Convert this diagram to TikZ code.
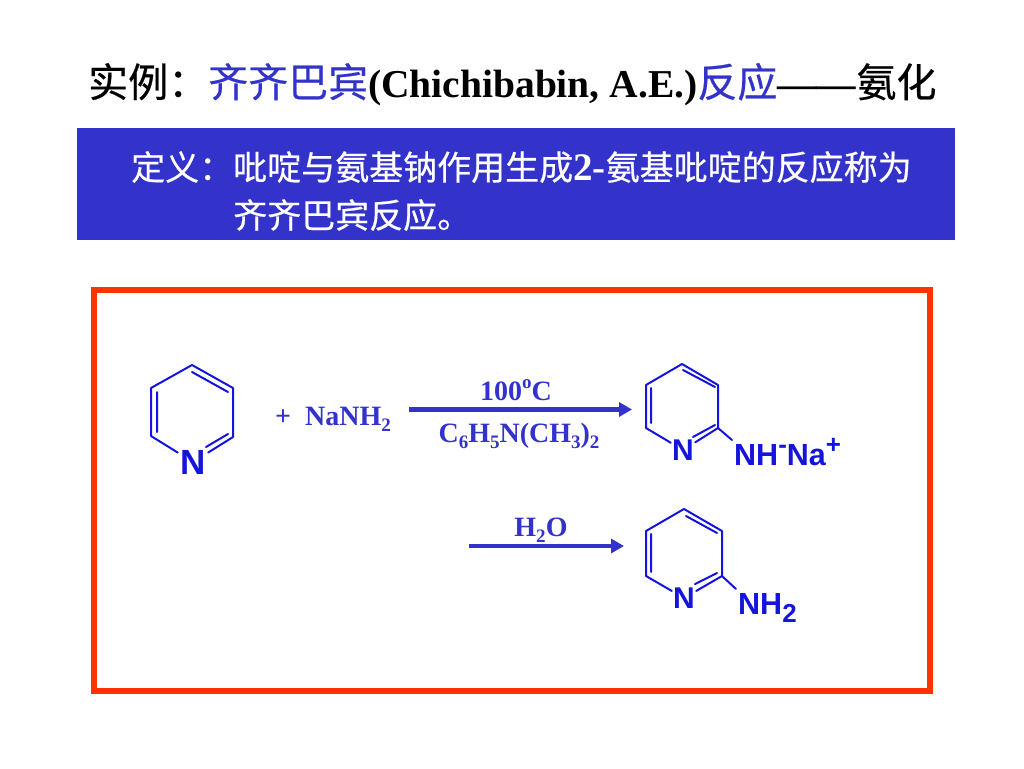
\documentclass[tikz,border=0pt]{standalone}
\usepackage{fontspec}
\usepackage{graphicx}
\setmainfont{Liberation Serif}
\newfontfamily\cjk[FakeBold=0.5]{Noto Sans CJK SC}
\newfontfamily\arialb[BoldFont=Liberation Sans Bold]{Liberation Sans}
\definecolor{royal}{HTML}{3333CC}
\definecolor{ringblue}{HTML}{1414DC}
\definecolor{framered}{HTML}{FF3300}
\newcommand\lowr[1]{\raisebox{-.24em}{\scalebox{.68}{#1}}}
\newcommand\upr[1]{\raisebox{.42em}{\scalebox{.68}{#1}}}
\newcommand\lowb[1]{\raisebox{-8pt}{\scalebox{.85}{#1}}}
\newcommand\upb[1]{\raisebox{11.5pt}{\scalebox{.85}{#1}}}
\newcommand\szfont[1]{\fontsize{#1}{#1}\selectfont}
\newcommand\ttlcjk[1]{{\szfont{40}\cjk\mdseries #1}}
\tikzset{
  txt/.style={inner sep=0pt,anchor=base west},
  titletxt/.style={txt,font=\szfont{39.5}\bfseries},
  deftxt/.style={txt,text=white,font=\szfont{34}\bfseries},
  chemtxt/.style={inner sep=0pt,text=royal,font=\szfont{28}\bfseries},
  atomtxt/.style={inner sep=0pt,text=ringblue,font=\arialb\bfseries},
  bond/.style={draw=ringblue,line width=2pt,line join=round,line cap=round},
  reactarrow/.style={draw=royal,line width=4.5pt,-{Triangle[length=13pt,width=14pt]}},
}
\usetikzlibrary{arrows.meta}
\begin{document}
\begin{tikzpicture}[x=1pt,y=-1pt]
\useasboundingbox (0,0) rectangle (1024,768);
% title
\node[titletxt] (title) at (88,97) {\ttlcjk{实例：}\textcolor{royal}{\ttlcjk{齐齐巴宾}}(Chichibabin, A.E.)\textcolor{royal}{\ttlcjk{反应}}——\ttlcjk{氨化}};
% definition band
\node[draw=none,fill=royal,minimum width=878pt,minimum height=112pt,inner sep=0pt,anchor=north west] (band) at (77,128) {};
\node[deftxt] (def1) at (131,180) {{\cjk\mdseries 定义：吡啶与氨基钠作用生成}{\szfont{39}2-}{\cjk\mdseries 氨基吡啶的反应称为}};
\node[deftxt] (def2) at (233,228) {{\cjk\mdseries 齐齐巴宾反应。}};
% frame
\node[draw=framered,line width=6pt,minimum width=836pt,minimum height=401pt,inner sep=0pt,anchor=north west] (frame) at (91,287) {};

% pyridine
\coordinate (a1) at (192,365);
\coordinate (a2) at (233,388);
\coordinate (a3) at (233,437);
\coordinate (a5) at (151,436);
\coordinate (a6) at (151,388);
\node[atomtxt,font=\szfont{35}\arialb\bfseries,minimum width=30pt,minimum height=28pt] (Na) at (193,462) {N};
\draw[bond] (Na) -- (a5) -- (a6) -- (a1) -- (a2) -- (a3) -- (Na);
\coordinate (a1i) at (192,372); \coordinate (a2i) at (228,392);
\coordinate (a3i) at (228,434); \coordinate (a4i) at (206,447);
\coordinate (a5i) at (157,432); \coordinate (a6i) at (157,392);
\draw[bond] (a1i) -- (a2i) (a3i) -- (a4i) (a5i) -- (a6i);

\node[chemtxt,txt] (plus) at (275,425) {+};
\node[chemtxt,txt] (nanh) at (305,425) {NaNH\lowr{2}};

% arrow 1
\coordinate (r1s) at (409,409.5);
\coordinate (r1e) at (632,409.5);
\draw[reactarrow] (r1s) -- (r1e);
\node[chemtxt,anchor=base] (temp) at (516,400) {100\upr{o}C};
\node[chemtxt,anchor=base] (solv) at (519,442) {C\lowr{6}H\lowr{5}N(CH\lowr{3})\lowr{2}};

% sodium salt
\coordinate (b1) at (682,364);
\coordinate (b2) at (718,385);
\coordinate (b3) at (718,428);
\coordinate (b5) at (646,428);
\coordinate (b6) at (646,385);
\node[atomtxt,font=\szfont{30}\arialb\bfseries,minimum width=24pt,minimum height=24pt] (Nb) at (683,450) {N};
\draw[bond] (Nb) -- (b5) -- (b6) -- (b1) -- (b2) -- (b3) -- (Nb);
\coordinate (b1i) at (683,370); \coordinate (b2i) at (715,387);
\coordinate (b3i) at (715,425); \coordinate (b4i) at (693,437);
\coordinate (b5i) at (651,423); \coordinate (b6i) at (651,388);
\draw[bond] (b1i) -- (b2i) (b3i) -- (b4i) (b5i) -- (b6i);
\node[atomtxt,txt,font=\szfont{30.5}\arialb\bfseries] (nhna) at (734,465) {NH\upb{-}Na\upb{+}};
\coordinate (b7) at (732,440);
\draw[bond] (b3) -- (b7);

% arrow 2
\coordinate (r2s) at (469,546);
\coordinate (r2e) at (624,546);
\draw[reactarrow] (r2s) -- (r2e);
\node[chemtxt,anchor=base] (water) at (541,536) {H\lowr{2}O};

% aminopyridine
\coordinate (c1) at (684,509);
\coordinate (c2) at (722,531);
\coordinate (c3) at (722,576);
\coordinate (c5) at (646,576);
\coordinate (c6) at (646,531);
\node[atomtxt,font=\szfont{30}\arialb\bfseries,minimum width=24pt,minimum height=24pt] (Nc) at (684,598) {N};
\draw[bond] (Nc) -- (c5) -- (c6) -- (c1) -- (c2) -- (c3) -- (Nc);
\coordinate (c1i) at (686,516); \coordinate (c2i) at (717,533);
\coordinate (c3i) at (717,573); \coordinate (c4i) at (695,584);
\coordinate (c5i) at (651,572); \coordinate (c6i) at (651,534);
\draw[bond] (c1i) -- (c2i) (c3i) -- (c4i) (c5i) -- (c6i);
\node[atomtxt,txt,font=\szfont{30.5}\arialb\bfseries] (nh2) at (738,614) {NH\lowb{2}};
\coordinate (c7) at (736,589);
\draw[bond] (c3) -- (c7);
\end{tikzpicture}
\end{document}
